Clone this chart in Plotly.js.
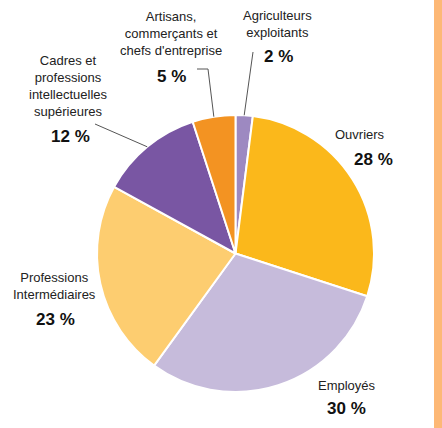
<!DOCTYPE html>
<html>
<head>
<meta charset="utf-8">
<script src="https://cdn.plot.ly/plotly-3.0.1.min.js"></script>
<style>html,body{margin:0;padding:0;background:#fff;}#chart{width:442px;height:428px;}</style>
</head>
<body>
<div id="chart"></div>
<script>
// Data
var categories = ["Agriculteurs<br>exploitants", "Ouvriers", "Employés", "Professions<br>Intermédiaires", "Cadres et<br>professions<br>intellectuelles<br>supérieures", "Artisans,<br>commerçants et<br>chefs d'entreprise"];
var values = [2, 28, 30, 23, 12, 5];
var colors = ["#9D89C1", "#FBB81B", "#C6BBDB", "#FDCD70", "#7956A3", "#F39322"];

// Layout helpers (pixel -> paper)
var W = 442, H = 428;
function px(x) { return x / W; }
function py(y) { return 1 - y / H; }

// Pie geometry
var cx = 235.5, cy = 253.5, r = 138.5;
var domainX = [px(cx - r), px(cx + r)];
var domainY = [py(cy + r), py(cy - r)];

// Label placement (pixels)
var namePos = [[277, 23.5], [360, 134], [347, 385], [54, 286], [68, 86], [171, 34]];
var pctPos = [[278, 57], [373, 159], [346, 408], [55, 319], [70, 137], [171, 76]];
// Leader lines: start points for slices that have one (index -> list of points)
var leaders = {0: [[253, 52]], 5: [[197, 69], [208, 69]], 4: [[95, 124]]};

var total = values.reduce(function (a, b) { return a + b; }, 0);
var cum = 0;
var mids = values.map(function (v) { var m = (cum + v / 2) / total; cum += v; return m * 2 * Math.PI; });

var annotations = [];
categories.forEach(function (c, i) {
  annotations.push({
    text: c, x: px(namePos[i][0]), y: py(namePos[i][1]), xref: "paper", yref: "paper",
    xanchor: "center", yanchor: "middle", showarrow: false, align: "center",
    font: {family: "Liberation Sans, Arial, sans-serif", size: 13, color: "#222"}
  });
  annotations.push({
    text: "<b>" + values[i] + " %</b>", x: px(pctPos[i][0]), y: py(pctPos[i][1]), xref: "paper", yref: "paper",
    xanchor: "center", yanchor: "middle", showarrow: false,
    font: {family: "Liberation Sans, Arial, sans-serif", size: 17, color: "#111"}
  });
});

var shapes = [{
  type: "rect", xref: "paper", yref: "paper", x0: px(434), x1: 1, y0: 0, y1: 1,
  fillcolor: "#FDB876", line: {width: 0}, layer: "below"
}];
Object.keys(leaders).forEach(function (k) {
  var i = +k;
  var a = mids[i];
  var pts = leaders[k].concat([[cx + r * Math.sin(a), cy - r * Math.cos(a)]]);
  var d = pts.map(function (p, j) { return (j ? "L" : "M") + px(p[0]) + "," + py(p[1]); }).join(" ");
  shapes.push({type: "path", xref: "paper", yref: "paper", path: d, line: {color: "#555", width: 1}});
});

var trace = {
  type: "pie", labels: categories, values: values, sort: false, direction: "clockwise", rotation: 0,
  marker: {colors: colors, line: {color: "#fff", width: 2}},
  textinfo: "none", hoverinfo: "skip", showlegend: false,
  domain: {x: domainX, y: domainY}
};

Plotly.newPlot("chart", [trace], {
  width: W, height: H, margin: {l: 0, r: 0, t: 0, b: 0},
  paper_bgcolor: "#fff", showlegend: false,
  annotations: annotations, shapes: shapes
}, {staticPlot: true});
</script>
</body>
</html>
